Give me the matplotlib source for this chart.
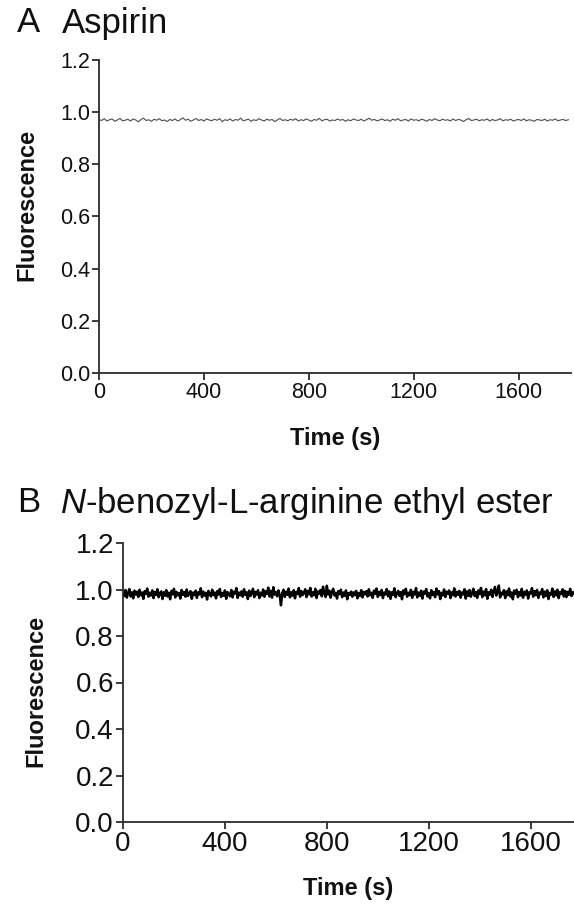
import matplotlib
matplotlib.use("Agg")
import matplotlib.pyplot as plt

plt.rcParams['font.family'] = ['Liberation Sans', 'DejaVu Sans']
plt.rcParams['mathtext.fontset'] = 'custom'
plt.rcParams['mathtext.it'] = 'Liberation Sans:italic'
plt.rcParams['mathtext.rm'] = 'Liberation Sans'

# ---------------- data ----------------
time_step_a = 10
aspirin = [
    0.972,0.968,0.975,0.966,0.971,0.974,0.965,0.970,0.976,0.967,0.969,0.973,
    0.966,0.974,0.970,0.963,0.972,0.977,0.968,0.971,0.965,0.973,0.969,0.975,
    0.967,0.970,0.964,0.972,0.968,0.974,0.966,0.971,0.978,0.969,0.973,0.965,
    0.970,0.976,0.968,0.972,0.966,0.974,0.970,0.967,0.973,0.969,0.975,0.964,
    0.971,0.968,0.974,0.966,0.972,0.969,0.977,0.967,0.970,0.973,0.965,0.971,
    0.968,0.975,0.970,0.966,0.973,0.969,0.972,0.964,0.970,0.976,0.968,0.971,
    0.967,0.973,0.969,0.975,0.966,0.971,0.968,0.974,0.970,0.965,0.972,0.969,
    0.976,0.967,0.971,0.973,0.966,0.970,0.968,0.974,0.969,0.972,0.965,0.971,
    0.967,0.974,0.970,0.968,0.973,0.966,0.971,0.977,0.969,0.972,0.967,0.970,
    0.974,0.968,0.971,0.965,0.973,0.969,0.975,0.967,0.970,0.972,0.966,0.974,
    0.969,0.971,0.967,0.973,0.970,0.965,0.972,0.968,0.975,0.970,0.967,0.973,
    0.969,0.971,0.966,0.974,0.968,0.972,0.970,0.964,0.971,0.976,0.968,0.970,
    0.973,0.967,0.971,0.969,0.974,0.966,0.972,0.968,0.970,0.975,0.967,0.971,
    0.969,0.973,0.966,0.970,0.972,0.968,0.974,0.967,0.971,0.969,0.965,0.972,
    0.970,0.968,0.973,0.966,0.971,0.969,0.974,0.967,0.970,0.972,0.968,0.971,
]
time_a = [i * time_step_a for i in range(len(aspirin))]

time_step_b = 5
baee = [
    0.990,0.972,0.998,0.965,0.985,1.002,0.970,0.988,0.962,0.995,0.978,0.991,
    0.968,0.999,0.975,0.987,0.960,0.993,0.981,1.004,0.969,0.986,0.974,0.996,
    0.963,0.989,0.977,1.001,0.967,0.984,0.992,0.959,0.988,0.973,0.997,0.970,
    0.986,0.958,0.994,0.979,1.003,0.966,0.990,0.975,0.985,0.961,0.998,0.977,
    0.989,0.969,1.000,0.972,0.984,0.993,0.960,0.987,0.976,0.995,0.964,0.988,
    0.979,1.005,0.967,0.991,0.974,0.986,0.957,0.994,0.981,0.970,0.999,0.976,
    0.987,0.962,0.993,0.978,1.002,0.968,0.985,0.973,0.996,0.960,0.989,0.980,
    0.971,0.998,0.966,0.990,0.983,1.006,0.964,0.987,0.975,0.992,0.969,1.001,
    0.977,0.988,0.959,0.995,0.972,0.984,1.003,0.967,0.990,0.978,0.997,0.963,
    0.986,0.974,1.000,0.969,0.992,0.981,1.008,0.970,0.994,0.965,1.010,0.978,
    0.989,0.971,0.996,0.975,0.932,0.985,0.999,0.968,0.991,0.977,1.004,0.966,
    0.988,0.973,0.997,0.962,0.990,0.980,1.006,0.969,0.993,0.976,0.985,1.001,
    0.967,0.994,0.979,1.007,0.970,0.988,0.975,1.003,0.963,0.992,0.982,0.998,
    0.971,1.012,0.984,0.968,1.016,0.978,0.995,0.965,0.989,1.003,0.974,0.986,
    0.961,0.993,0.980,0.999,0.967,0.987,0.973,0.996,0.958,0.985,0.977,0.991,
    0.969,0.988,0.976,0.994,0.962,0.984,0.972,0.997,0.966,0.989,0.979,0.993,
    0.970,1.001,0.975,0.986,0.964,0.995,0.981,1.004,0.968,0.990,0.976,0.998,
    0.963,0.987,0.979,1.002,0.971,0.992,0.960,0.988,0.977,1.005,0.967,0.985,
    0.994,0.973,0.989,0.958,0.996,0.980,1.003,0.969,0.986,0.975,0.999,0.964,
    0.990,0.978,1.006,0.966,0.987,0.973,0.995,0.961,0.991,0.982,1.002,0.970,
    0.985,0.962,0.997,0.976,0.989,0.967,1.004,0.979,0.993,0.959,0.986,0.974,
    1.000,0.968,0.991,0.981,0.996,0.963,0.988,0.975,1.005,0.970,0.990,0.977,
    0.994,0.965,0.987,0.979,1.001,0.961,0.992,0.973,0.998,0.969,0.985,1.003,
    0.972,0.989,0.964,0.996,0.980,1.007,0.967,0.991,0.975,1.002,0.960,0.988,
    0.977,0.999,0.968,0.993,1.011,0.974,0.990,1.017,0.966,0.986,0.979,0.997,
    0.963,0.992,0.976,1.004,0.970,0.987,0.958,0.995,0.981,0.999,0.967,0.989,
    0.974,1.003,0.965,0.990,0.978,0.996,0.961,0.988,0.983,1.006,0.969,0.993,
    0.976,0.998,0.964,0.987,0.980,1.002,0.966,0.991,0.972,0.997,0.959,0.985,
    0.978,1.004,0.968,0.992,0.975,0.999,0.963,0.989,0.981,1.001,0.970,0.994,
    0.967,0.990,0.977,1.003,0.972,0.988,0.980,0.995,
]
time_b = [i * time_step_b for i in range(len(baee))]

yticks = [0.0, 0.2, 0.4, 0.6, 0.8, 1.0, 1.2]
xticks = [0, 400, 800, 1200, 1600]

W, H = 574, 907
fig = plt.figure(figsize=(W / 100, H / 100), dpi=100)

def fx(px):
    return px / W

def fy(py):
    return 1 - py / H

spine_col = '#2b2b2b'
txt_col = '#111111'

def style(ax, tick_fs):
    for s in ['top', 'right']:
        ax.spines[s].set_visible(False)
    for s in ['left', 'bottom']:
        ax.spines[s].set_linewidth(1.3)
        ax.spines[s].set_color(spine_col)
    ax.tick_params(direction='out', length=5, width=1.3, color=spine_col,
                   labelsize=tick_fs, labelcolor=txt_col, pad=1.5)
    ax.set_yticks(yticks)
    ax.set_yticklabels([f'{v:.1f}' for v in yticks])
    ax.set_xticks(xticks)
    ax.set_xticklabels([str(v) for v in xticks])

# Panel A
axA = fig.add_axes([fx(99), fy(373), fx(571) - fx(99), fy(60) - fy(373)])
axA.plot(time_a, aspirin, color='#4d4d4d', lw=0.8)
axA.set_xlim(0, 1800)
axA.set_ylim(0, 1.2)
style(axA, 15.5)

fig.text(fx(17), fy(23), 'A', fontsize=25, va='center', ha='left', color=txt_col)
fig.text(fx(62), fy(23), 'Aspirin', fontsize=25, va='center', ha='left', color=txt_col)
fig.text(fx(27), fy(205), 'Fluorescence', fontsize=17, fontweight='bold',
         rotation=90, va='center', ha='center', color=txt_col)
fig.text(fx(335), fy(438), 'Time (s)', fontsize=17, fontweight='bold',
         va='center', ha='center', color=txt_col)

# Panel B
axB = fig.add_axes([fx(123), fy(822), 1 - fx(123), fy(543) - fy(822)])
axB.plot(time_b, baee, color='black', lw=1.8)
axB.set_xlim(0, 1770)
axB.set_ylim(0, 1.2)
style(axB, 20)

fig.text(fx(17), fy(503), 'B', fontsize=25, va='center', ha='left', color=txt_col)
fig.text(fx(60), fy(503), r'$\mathit{N}$-benozyl-L-arginine ethyl ester', fontsize=25,
         va='center', ha='left', color=txt_col)
fig.text(fx(36), fy(691), 'Fluorescence', fontsize=17, fontweight='bold',
         rotation=90, va='center', ha='center', color=txt_col)
fig.text(fx(348), fy(888), 'Time (s)', fontsize=17, fontweight='bold',
         va='center', ha='center', color=txt_col)

fig.savefig('out.png', dpi=100)
